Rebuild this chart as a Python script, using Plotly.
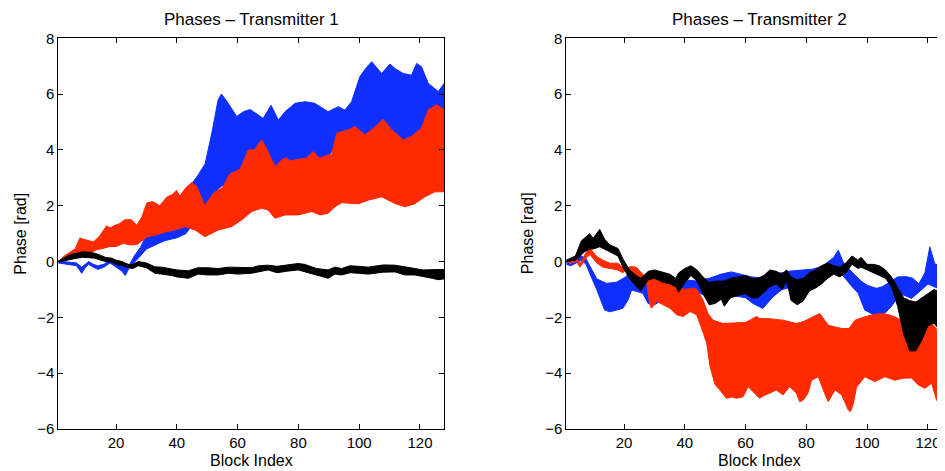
import plotly.graph_objects as go

BLUE = "#0f2fff"
RED = "#ff2a00"
BLACK = "#000000"

# ---------------- Transmitter 1 (left) ----------------
L_blue_x = [1, 3, 5, 7, 8.7, 10, 11, 12.5, 14, 16, 18, 20, 22, 23, 24.5, 26, 28, 30, 33, 36, 40, 43, 45, 47, 49.3, 51.5,
            53.6, 54.7, 56.4, 59.7, 61.9, 64.1, 65.2, 68.4, 71, 73.4, 75.6, 78.9, 82.2, 85.4, 89.8, 93.1, 95.3, 97.5,
            100.2, 102, 104.1, 107.4, 110.1, 112, 114.5, 117.2, 118.9, 120.5, 122.7, 126, 128]
L_blue_top = [0.02, 0.0, -0.02, -0.05, -0.2, -0.1, 0.0, -0.1, -0.15, -0.1, 0.05, -0.05, -0.15, -0.2, -0.1, 0.2, 0.5,
              0.95, 1.1, 1.2, 1.5, 2.6, 2.8, 3.1, 3.5, 4.6, 5.8, 6.0, 5.75, 5.2, 5.37, 5.45, 5.37, 5.13, 5.6, 5.07,
              5.37, 5.67, 5.73, 5.67, 5.37, 5.55, 5.43, 5.73, 6.62, 6.9, 7.16, 6.74, 7.08, 6.9, 6.74, 6.68, 7.1, 6.98,
              6.39, 6.09, 6.39]
L_blue_bot = [-0.05, -0.1, -0.12, -0.15, -0.42, -0.2, -0.1, -0.2, -0.28, -0.2, -0.05, -0.2, -0.35, -0.5, -0.2, -0.05,
              0.2, 0.45, 0.6, 0.75, 0.85, 1.0, 1.3, 1.8, 2.0, 2.3, 2.6, 2.7, 2.8, 3.0, 3.3, 3.6, 3.8, 4.0, 3.5, 3.3,
              3.5, 3.5, 3.6, 3.7, 3.75, 4.3, 4.5, 4.5, 4.4, 4.4, 4.5, 4.8, 4.5, 4.35, 4.3, 4.4, 4.6, 4.7, 5.0, 5.3,
              5.3]

L_red_top_x = [1, 3, 5, 6.5, 8.1, 10, 12.5, 14.5, 16.9, 18, 19.6, 21, 22.9, 25.1, 26.8, 28.5, 30.1, 32, 34.4, 36.6,
               38.5, 39.9, 41, 43, 44.9, 46.5, 49.2, 52, 55, 57.5, 60.8, 63.5, 65.5, 67.9, 69.5, 72.3, 74.5, 76,
               77.2, 80.5, 82.5, 84.9, 86.9, 89.8, 90.9, 92.6, 96.4, 98.6, 101.9, 104.1, 107.9, 110.7, 114.5, 117.2,
               120.5, 122.7, 125.5, 128]
L_red_top = [0.0, 0.2, 0.35, 0.45, 0.84, 0.78, 0.7, 0.9, 1.28, 1.2, 1.3, 1.35, 1.5, 1.5, 1.3, 1.6, 2.1, 2.15, 2.0,
             2.3, 2.4, 2.55, 2.35, 2.65, 2.83, 2.7, 2.0, 2.45, 2.65, 3.15, 3.3, 4.0, 4.0, 4.36, 4.05, 3.4, 3.64, 3.72,
             3.6, 3.68, 3.7, 3.94, 3.7, 3.82, 3.82, 4.6, 4.72, 4.84, 4.54, 4.72, 5.1, 4.72, 4.36, 4.48, 4.78, 5.44,
             5.62, 5.44]
L_red_bot_x = [1, 3.7, 6, 9.2, 10.9, 13.6, 16, 18, 20, 22.4, 25.1, 27, 28.5, 30.5, 33, 36, 40, 42.7, 46, 49.3, 53.6,
               58, 61.3, 64.6, 67.9, 70, 72.3, 75.6, 79.9, 84.4, 87.1, 89.8, 92, 94.2, 99.7, 103, 107.4, 111.8, 115,
               118.3, 121.6, 124.9, 128]
L_red_bot = [0.0, 0.1, 0.2, 0.3, 0.29, 0.42, 0.48, 0.54, 0.54, 0.65, 0.59, 0.62, 0.75, 0.9, 0.95, 1.05, 1.15, 1.25,
             1.13, 0.89, 1.13, 1.25, 1.49, 1.79, 1.91, 1.85, 1.55, 1.67, 1.67, 1.79, 1.67, 1.73, 1.96, 2.11, 2.07, 2.2,
             2.32, 2.08, 1.96, 2.07, 2.32, 2.5, 2.5]

L_black_x = [1, 3, 5, 7, 9, 11, 13, 15, 16.5, 18.6, 20, 22, 24, 25.5, 27.3, 30, 32.8, 35, 38.3, 40, 43.8, 47, 50,
             53.6, 57, 60, 64.6, 67, 70, 73, 76, 79.9, 82, 86, 89.8, 92, 94.2, 97, 99.7, 103, 106, 108, 111.8, 115,
             118.3, 121, 124, 126, 128]
L_black_top = [0.02, 0.15, 0.25, 0.3, 0.35, 0.34, 0.3, 0.22, 0.15, 0.12, 0.05, 0.0, -0.1, -0.1, 0.0, -0.05, -0.19,
               -0.2, -0.25, -0.3, -0.33, -0.22, -0.22, -0.25, -0.2, -0.2, -0.22, -0.15, -0.13, -0.17, -0.12, -0.07,
               -0.1, -0.25, -0.3, -0.2, -0.25, -0.15, -0.17, -0.2, -0.15, -0.12, -0.13, -0.2, -0.25, -0.3, -0.3, -0.3,
               -0.28]
L_black_bot = [-0.02, 0.02, 0.08, 0.12, 0.15, 0.14, 0.12, 0.05, 0.0, -0.02, -0.1, -0.15, -0.22, -0.25, -0.15,
               -0.22, -0.42, -0.45, -0.5, -0.55, -0.6, -0.45, -0.48, -0.48, -0.42, -0.45, -0.42, -0.38, -0.3, -0.4,
               -0.35, -0.3, -0.35, -0.48, -0.6, -0.45, -0.48, -0.4, -0.42, -0.45, -0.4, -0.38, -0.37, -0.48, -0.48,
               -0.55, -0.6, -0.65, -0.62]

# ---------------- Transmitter 2 (right) ----------------
R_blue_top_x = [1, 2.5, 4.4, 6, 7.5, 9, 11, 14.2, 17.5, 20.7, 22, 25, 28, 32, 36, 40, 44, 48, 52, 55.3, 58, 62, 66,
                70, 74, 78.9, 82.2, 85.4, 87.2, 89, 90.5, 92, 93.8, 96, 98, 100, 103, 105, 108, 110, 113, 115, 117,
                119, 120.6, 122.2, 124, 126, 128]
R_blue_top = [0.0, -0.1, 0.24, 0.2, 0.1, -0.2, -0.62, -0.78, -0.74, -0.54, -0.3, -0.5, -0.6, -0.6, -0.6, -0.65,
              -0.7, -0.6, -0.45, -0.37, -0.45, -0.55, -0.6, -0.45, -0.35, -0.3, -0.27, -0.16, 0.0, 0.15, 0.41, 0.0,
              -0.25, -0.5, -0.7, -0.85, -0.96, -0.9, -0.7, -0.55, -0.54, -0.6, -0.8, -0.4, 0.53, -0.07, -0.2, -0.25,
              -0.3]
R_blue_bot_x = [1, 2.5, 4.4, 6, 7.5, 9, 11, 12, 13.6, 15.3, 17.5, 19.6, 21.3, 22.5, 24, 26.2, 27.9, 30, 34, 38, 40,
                43, 46, 50, 55, 60, 62.4, 65.7, 69, 72, 76, 80, 84, 87, 88, 90, 92, 95, 97, 99.2, 102.5, 105.8, 108,
                110, 112, 114.6, 116, 118, 120, 122, 124, 126, 128]
R_blue_bot = [-0.1, -0.15, -0.05, 0.05, -0.1, -0.5, -1.0, -1.26, -1.74, -1.8, -1.74, -1.68, -1.38, -1.02, -1.08,
              -1.14, -1.5, -1.55, -1.3, -1.1, -1.0, -1.0, -1.2, -1.2, -1.2, -1.3, -1.5, -1.68, -1.26, -1.0, -0.9,
              -0.8, -0.7, -0.6, -0.5, -0.2, -0.5, -0.9, -1.13, -1.74, -1.92, -1.86, -1.6, -1.3, -1.2, -1.32, -1.2,
              -1.0, -0.8, -0.9, -1.0, -1.2, -1.2]

R_red_top_x = [1, 2.5, 4.4, 5.5, 7.7, 8.8, 11, 13, 15.4, 18, 20.3, 22, 24, 26.9, 29, 32, 35, 38, 40, 42.7, 44, 46,
               47.6, 49.3, 52.6, 56, 60, 63.6, 64.6, 68, 72.3, 76.7, 79, 82.2, 84.4, 87.2, 91.6, 94, 96, 99.2, 102,
               104.7, 107, 109.1, 111, 113, 116, 119, 121.2, 123.9, 125.6, 128]
R_red_top = [0.05, 0.05, 0.12, -0.08, 0.36, 0.48, 0.18, 0.05, -0.06, -0.06, -0.3, -0.18, -0.2, -0.54, -0.5, -0.55,
             -0.6, -0.9, -1.0, -0.95, -1.0, -1.38, -1.86, -2.1, -2.22, -2.2, -2.18, -1.97, -2.04, -2.05, -2.1, -2.22,
             -2.15, -1.98, -1.86, -2.28, -2.4, -2.4, -2.1, -1.98, -1.9, -1.86, -1.9, -1.98, -2.09, -2.2, -2.3, -2.4,
             -2.2, -2.57, -2.45, -2.5]
R_red_bot_x = [1, 2.5, 4.4, 5.5, 7.7, 8.8, 11, 13, 15.4, 18, 19.5, 20.3, 22, 24, 26, 27.5, 28.5, 29, 30.7, 32.9,
               35.1, 37.3, 39.5, 41.7, 43.9, 46.1, 47.2, 48.3, 49.9, 51.5, 53.7, 55.5, 57, 59.2, 60.8, 63, 64.6, 66,
               67.9, 70.1, 72.3, 74.5, 76.7, 77.8, 79, 80.5, 81.7, 83.9, 86, 87.2, 89.4, 91.6, 93.8, 94.5, 95.4, 96.5,
               99.2, 102.5, 105.8, 109.1, 111.9, 114.6, 116.8, 119, 121.2, 122.8, 124.5, 125.6, 128]
R_red_bot = [-0.02, -0.05, 0.0, -0.2, 0.15, 0.25, -0.05, -0.2, -0.25, -0.3, -0.4, -0.35, -0.42, -0.5, -0.7, -0.8,
             -1.55, -1.67, -1.43, -1.55, -1.67, -1.91, -1.97, -1.79, -1.91, -2.57, -2.93, -3.76, -4.4, -4.6, -4.9,
             -4.85, -4.9, -4.84, -4.48, -4.72, -4.9, -4.8, -4.72, -4.6, -4.78, -4.48, -4.72, -5.02, -4.96, -4.72,
             -4.25, -4.13, -4.72, -5.02, -4.6, -4.78, -5.32, -5.38, -5.1, -4.5, -4.13, -4.3, -4.13, -4.25, -4.18,
             -4.17, -4.42, -4.54, -4.36, -4.96, -5.2, -5.32, -5.3]

R_black_x = [1, 4, 6, 7, 8.7, 9.8, 12, 13.6, 15.3, 18, 19.6, 21.8, 24, 25.5, 27, 28, 30, 33, 35, 37, 38, 40, 42, 44,
             46, 48, 50, 52, 53, 55, 58, 60, 62, 64, 66, 68, 70, 72, 73.5, 75, 77, 79, 81, 83, 85, 87, 89, 91, 93, 95,
             97, 98, 100, 102, 104, 106, 108, 110, 112, 114, 116, 118, 120, 122, 124, 126, 128]
R_black_top = [0.05, 0.2, 0.75, 0.85, 1.0, 0.83, 1.15, 0.8, 0.6, 0.47, 0.1, -0.3, -0.5, -0.6, -0.45, -0.35, -0.3,
               -0.4, -0.45, -0.6, -0.4, -0.25, -0.15, -0.3, -0.55, -0.75, -0.7, -0.7, -0.7, -0.6, -0.55, -0.5, -0.6,
               -0.6, -0.5, -0.3, -0.35, -0.45, -0.3, -0.55, -0.65, -0.6, -0.4, -0.3, -0.15, -0.05, -0.15, -0.2, -0.05,
               0.2, 0.05, 0.15, -0.1, -0.1, -0.15, -0.3, -0.55, -0.95, -1.3, -1.4, -1.45, -1.3, -1.15, -1.0, -1.1,
               -1.15, -1.2]
R_black_bot = [0.0, 0.05, 0.25, 0.35, 0.45, 0.45, 0.53, 0.45, 0.35, 0.2, -0.2, -0.6, -0.9, -1.05, -0.8, -0.65, -0.6,
               -0.75, -0.8, -0.9, -1.1, -0.75, -0.5, -0.7, -1.15, -1.55, -1.5, -1.35, -1.6, -1.3, -1.2, -1.15, -1.3,
               -1.3, -1.1, -0.9, -0.8, -1.0, -0.7, -1.4, -1.55, -1.4, -1.05, -0.95, -0.8, -0.6, -0.45, -0.55, -0.4,
               -0.1, -0.25, -0.2, -0.3, -0.4, -0.5, -0.6, -0.9, -1.6, -2.6, -3.2, -3.2, -2.8, -2.3, -2.2, -2.5, -2.7,
               -2.8]

X_TICKS = [20, 40, 60, 80, 100, 120]
Y_TICKS = [-6, -4, -2, 0, 2, 4, 6, 8]
TITLES = ["Phases – Transmitter 1", "Phases – Transmitter 2"]
X_LABEL = "Block Index"
Y_LABEL = "Phase [rad]"


def band(xt, top, xb, bot, color, xa, ya):
    return go.Scatter(
        x=list(xt) + list(xb)[::-1],
        y=list(top) + list(bot)[::-1],
        fill="toself", fillcolor=color, mode="lines",
        line=dict(color=color, width=1),
        xaxis=xa, yaxis=ya, hoverinfo="skip", showlegend=False,
    )


fig = go.Figure()
fig.add_trace(band(L_blue_x, L_blue_top, L_blue_x, L_blue_bot, BLUE, "x", "y"))
fig.add_trace(band(L_red_top_x, L_red_top, L_red_bot_x, L_red_bot, RED, "x", "y"))
fig.add_trace(band(L_black_x, L_black_top, L_black_x, L_black_bot, BLACK, "x", "y"))
fig.add_trace(band(R_blue_top_x, R_blue_top, R_blue_bot_x, R_blue_bot, BLUE, "x2", "y2"))
fig.add_trace(band(R_red_top_x, R_red_top, R_red_bot_x, R_red_bot, RED, "x2", "y2"))
fig.add_trace(band(R_black_x, R_black_top, R_black_x, R_black_bot, BLACK, "x2", "y2"))

# page has an 8px body margin: figure origin is at page (8, 8)
OFF = 8
W, H = 945 - OFF, 471 - OFF
L0, L1 = 58.3 - OFF, 444.3 - OFF
R0 = 566.3 - OFF
TOP, BOT = 38.3 - OFF, 429.0 - OFF
unit = (L1 - L0) / 127.0
r_max = 1 + (W - R0) / unit

font = dict(family="Liberation Sans, Arial, Helvetica, sans-serif", size=15, color="black")
ax_common = dict(showgrid=False, zeroline=False, showline=True, linecolor="black", linewidth=1,
                 ticks="inside", ticklen=5, tickwidth=1, tickcolor="black", tickfont=font, automargin=False)

fig.update_layout(
    width=W, height=H, margin=dict(l=0, r=0, t=0, b=0, autoexpand=False),
    paper_bgcolor="white", plot_bgcolor="white", font=font,
    xaxis=dict(domain=[L0 / W, L1 / W], range=[1, 128], tickvals=X_TICKS, anchor="y", mirror="ticks", **ax_common),
    yaxis=dict(domain=[1 - BOT / H, 1 - TOP / H], range=[-6, 8], tickvals=Y_TICKS, anchor="x", mirror="ticks",
               **ax_common),
    xaxis2=dict(domain=[R0 / W, 1.0], range=[1, r_max], tickvals=X_TICKS, anchor="y2", mirror="ticks", **ax_common),
    yaxis2=dict(domain=[1 - BOT / H, 1 - TOP / H], range=[-6, 8], tickvals=Y_TICKS, anchor="x2", mirror=False,
                **ax_common),
)

title_font = dict(family=font["family"], size=17, color="black")
label_font = dict(family=font["family"], size=16, color="black")
centers = [(L0 + L1) / 2, R0 + (L1 - L0) / 2]
ylab_x = [21.0 - OFF, 527.5 - OFF]
for i in range(2):
    fig.add_annotation(text=TITLES[i], xref="paper", yref="paper", x=centers[i] / W, y=1 - (31 - OFF) / H,
                       xanchor="center", yanchor="bottom", showarrow=False, font=title_font)
    fig.add_annotation(text=X_LABEL, xref="paper", yref="paper", x=centers[i] / W, y=0.0,
                       xanchor="center", yanchor="bottom", showarrow=False, font=label_font)
    fig.add_annotation(text=Y_LABEL, xref="paper", yref="paper", x=ylab_x[i] / W, y=1 - (TOP + BOT) / 2 / H,
                       xanchor="center", yanchor="middle", textangle=-90, showarrow=False, font=label_font)

fig.write_html("out.html")
